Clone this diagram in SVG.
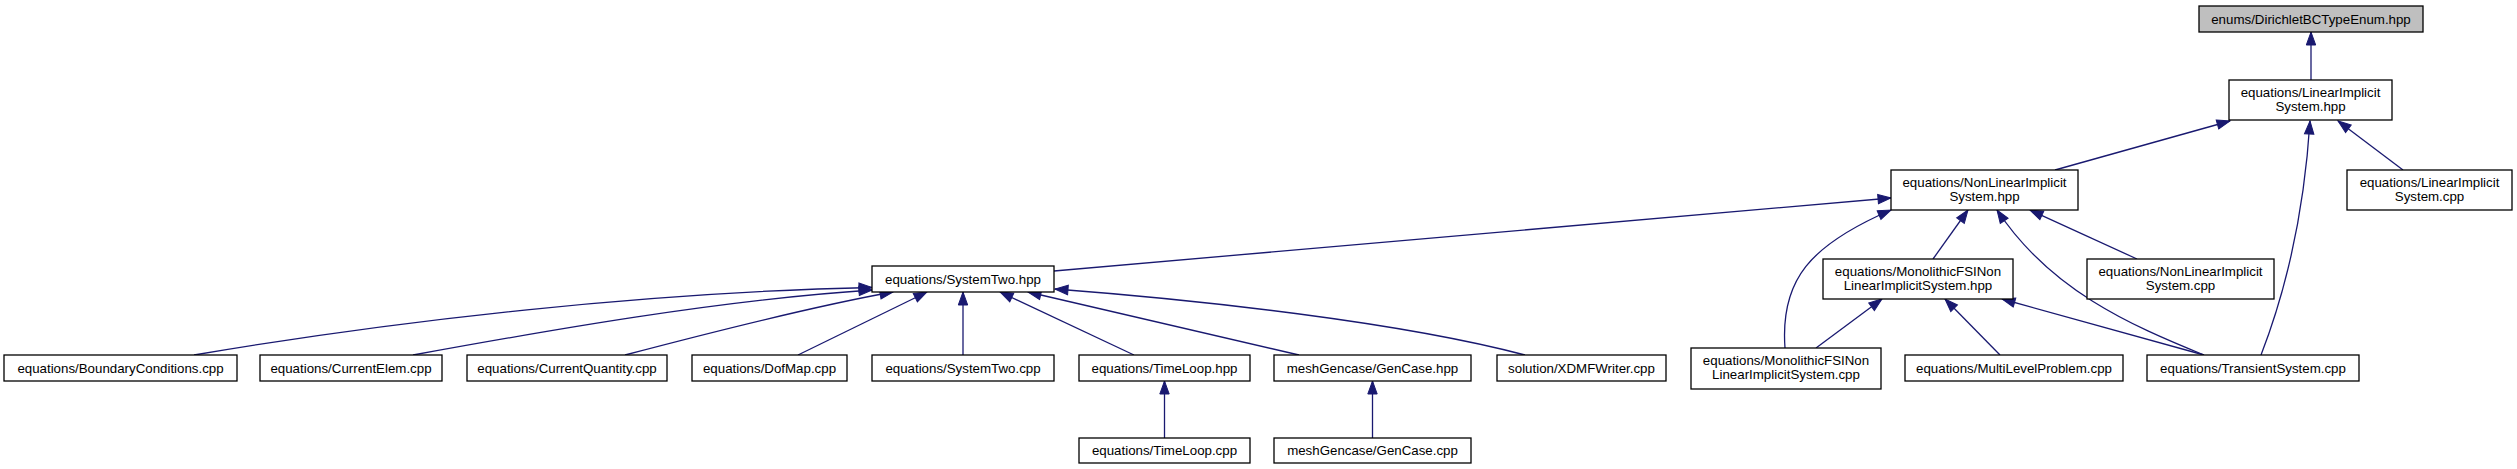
<svg xmlns="http://www.w3.org/2000/svg" width="2517" height="469" viewBox="0 0 2517 469">
<defs>
<marker id="ah" markerUnits="userSpaceOnUse" markerWidth="14" markerHeight="10" refX="13" refY="4.7" orient="auto" viewBox="0 0 14 10" overflow="visible">
<path d="M0,0 L13,4.7 L0,9.4 z" fill="#191970" stroke="#191970" stroke-width="1"/>
</marker>
<style>
.n rect{fill:#ffffff;stroke:#000000;stroke-width:1.3}
.n text{font-family:"Liberation Sans",Arial,sans-serif;font-size:13.3px;fill:#000000;text-anchor:middle}
#n0 rect{fill:#bfbfbf}
.e path{fill:none;stroke:#191970;stroke-width:1.3;marker-end:url(#ah)}
</style>
</defs>
<rect width="2517" height="469" fill="#ffffff"/>
<g id="edges" class="e">
<path d="M2311,80 L2311,32"/>
<path d="M2055,170 L2230,121"/>
<path d="M2403,170 L2338,121"/>
<path d="M2261,355 C2290,280 2305,200 2310,121"/>
<path d="M1054,271 L1891,198"/>
<path d="M1933,259 L1968,210"/>
<path d="M2137,259 L2030,210"/>
<path d="M2204,355 C2130,325 2050,290 1997,210"/>
<path d="M1785,348 C1780,280 1810,245 1891,210"/>
<path d="M1816,348 L1882,299"/>
<path d="M2000,355 L1945,299"/>
<path d="M2204,355 L2002,299"/>
<path d="M194,355 C400,320 650,292 872,287.5"/>
<path d="M413,355 C550,330 720,300 872,290"/>
<path d="M625,355 C720,330 820,305 893,292"/>
<path d="M798,355 L927,292"/>
<path d="M963,355 L963,292"/>
<path d="M1134,355 L1000,292"/>
<path d="M1299,355 L1028,292"/>
<path d="M1525,355 C1400,322 1200,300 1055,289"/>
<path d="M1164.5,438 L1164.5,381"/>
<path d="M1372.5,438 L1372.5,381"/>
</g>
<g id="n0" class="n"><rect x="2199" y="6" width="224" height="26"/><text x="2311" y="23.5">enums/DirichletBCTypeEnum.hpp</text></g>
<g id="n1" class="n"><rect x="2229" y="80" width="163" height="40"/><text x="2310.5" y="96.5">equations/LinearImplicit</text><text x="2310.5" y="110.5">System.hpp</text></g>
<g id="n2" class="n"><rect x="1891" y="170" width="187" height="40"/><text x="1984.5" y="186.5">equations/NonLinearImplicit</text><text x="1984.5" y="200.5">System.hpp</text></g>
<g id="n3" class="n"><rect x="2347" y="170" width="165" height="40"/><text x="2429.5" y="186.5">equations/LinearImplicit</text><text x="2429.5" y="200.5">System.cpp</text></g>
<g id="n4" class="n"><rect x="872" y="266" width="182" height="26"/><text x="963" y="283.5">equations/SystemTwo.hpp</text></g>
<g id="n5" class="n"><rect x="1823" y="259" width="190" height="40"/><text x="1918" y="275.5">equations/MonolithicFSINon</text><text x="1918" y="289.5">LinearImplicitSystem.hpp</text></g>
<g id="n6" class="n"><rect x="2087" y="259" width="187" height="40"/><text x="2180.5" y="275.5">equations/NonLinearImplicit</text><text x="2180.5" y="289.5">System.cpp</text></g>
<g id="n7" class="n"><rect x="4" y="355" width="233" height="26"/><text x="120.5" y="372.5">equations/BoundaryConditions.cpp</text></g>
<g id="n8" class="n"><rect x="260" y="355" width="182" height="26"/><text x="351" y="372.5">equations/CurrentElem.cpp</text></g>
<g id="n9" class="n"><rect x="467" y="355" width="200" height="26"/><text x="567" y="372.5">equations/CurrentQuantity.cpp</text></g>
<g id="n10" class="n"><rect x="692" y="355" width="155" height="26"/><text x="769.5" y="372.5">equations/DofMap.cpp</text></g>
<g id="n11" class="n"><rect x="872" y="355" width="182" height="26"/><text x="963" y="372.5">equations/SystemTwo.cpp</text></g>
<g id="n12" class="n"><rect x="1079" y="355" width="171" height="26"/><text x="1164.5" y="372.5">equations/TimeLoop.hpp</text></g>
<g id="n13" class="n"><rect x="1274" y="355" width="197" height="26"/><text x="1372.5" y="372.5">meshGencase/GenCase.hpp</text></g>
<g id="n14" class="n"><rect x="1497" y="355" width="169" height="26"/><text x="1581.5" y="372.5">solution/XDMFWriter.cpp</text></g>
<g id="n15" class="n"><rect x="1691" y="348" width="190" height="41"/><text x="1786" y="365">equations/MonolithicFSINon</text><text x="1786" y="379">LinearImplicitSystem.cpp</text></g>
<g id="n16" class="n"><rect x="1905" y="355" width="218" height="26"/><text x="2014" y="372.5">equations/MultiLevelProblem.cpp</text></g>
<g id="n17" class="n"><rect x="2147" y="355" width="212" height="26"/><text x="2253" y="372.5">equations/TransientSystem.cpp</text></g>
<g id="n18" class="n"><rect x="1079" y="438" width="171" height="25"/><text x="1164.5" y="455">equations/TimeLoop.cpp</text></g>
<g id="n19" class="n"><rect x="1274" y="438" width="197" height="25"/><text x="1372.5" y="455">meshGencase/GenCase.cpp</text></g>
</svg>
